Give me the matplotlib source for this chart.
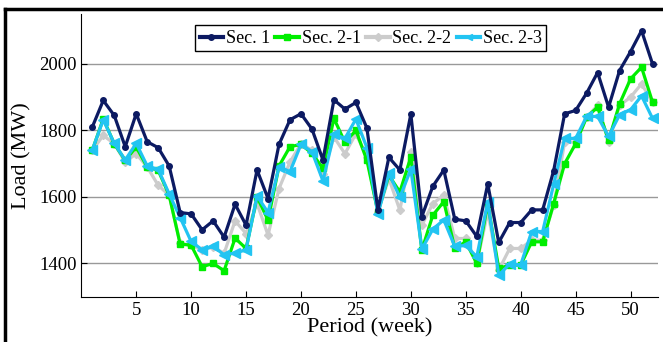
import matplotlib
matplotlib.use("Agg")
import matplotlib.pyplot as plt
from matplotlib.lines import Line2D

weeks = list(range(1, 53))

sec1 = [1810, 1890, 1845, 1751, 1850, 1766, 1748, 1693, 1553, 1549,
        1501, 1528, 1479, 1578, 1515, 1681, 1595, 1758, 1832, 1850,
        1804, 1711, 1892, 1864, 1884, 1807, 1561, 1719, 1681, 1849,
        1541, 1632, 1681, 1533, 1528, 1481, 1639, 1463, 1523, 1523,
        1561, 1561, 1679, 1850, 1860, 1912, 1974, 1870, 1980, 2037,
        2100, 2000]

sec2_1 = [1740, 1835, 1760, 1710, 1750, 1690, 1680, 1605, 1458, 1455,
          1390, 1400, 1378, 1476, 1445, 1600, 1530, 1693, 1751, 1758,
          1731, 1686, 1836, 1764, 1800, 1710, 1555, 1665, 1615, 1720,
          1440, 1545, 1586, 1445, 1465, 1400, 1580, 1385, 1395, 1395,
          1465, 1465, 1580, 1700, 1760, 1840, 1870, 1770, 1880, 1955,
          1990, 1885]

sec2_2 = [1740, 1785, 1760, 1705, 1730, 1690, 1635, 1605, 1460, 1455,
          1440, 1450, 1430, 1528, 1490, 1580, 1485, 1625, 1705, 1760,
          1740, 1670, 1780, 1730, 1790, 1720, 1555, 1655, 1560, 1735,
          1515, 1580, 1605, 1475, 1475, 1400, 1555, 1380, 1445, 1445,
          1470, 1470, 1575, 1765, 1765, 1840, 1875, 1765, 1875, 1900,
          1940, 1885]

sec2_3 = [1741, 1832, 1761, 1711, 1761, 1693, 1683, 1609, 1538, 1466,
          1441, 1451, 1426, 1431, 1441, 1603, 1553, 1691, 1676, 1758,
          1736, 1648, 1789, 1776, 1834, 1748, 1548, 1671, 1599, 1683,
          1443, 1503, 1531, 1451, 1454, 1420, 1585, 1365, 1398, 1396,
          1496, 1496, 1638, 1776, 1776, 1842, 1842, 1782, 1847, 1862,
          1904, 1836]

plt.rcParams["font.family"] = ["Liberation Serif", "DejaVu Serif"]

fig = plt.figure(figsize=(6.63, 3.42), dpi=100)
ax = fig.add_axes([0.1226, 0.1325, 0.8699, 0.8265])

ax.plot(weeks, sec2_2, color="#cccccc", lw=2.3, marker="D", ms=4.5, zorder=2, label="Sec. 2-2")
ax.plot(weeks, sec2_1, color="#00ee00", lw=2.3, marker="s", ms=5, zorder=3, label="Sec. 2-1")
ax.plot(weeks, sec2_3, color="#22c4f2", lw=2.3, marker="<", ms=6.5, zorder=4, label="Sec. 2-3")
ax.plot(weeks, sec1, color="#0c1a62", lw=2.3, marker="o", ms=4, zorder=5, label="Sec. 1")

ax.set_xlim(0, 52.5)
ax.set_ylim(1300, 2150)
ax.set_xticks([5, 10, 15, 20, 25, 30, 35, 40, 45, 50])
ax.set_yticks([1400, 1600, 1800, 2000])
ax.yaxis.grid(True, color="#999999", lw=1.0)
ax.set_axisbelow(True)
ax.tick_params(direction="in", labelsize=13.5, length=4, width=0.8, color="black")
ax.spines["top"].set_visible(False)
ax.spines["right"].set_visible(False)
ax.spines["left"].set_linewidth(0.8)
ax.spines["bottom"].set_linewidth(0.8)

ax.set_xlabel("Period (week)", fontsize=16, labelpad=0)
ax.set_ylabel("Load (MW)", fontsize=16, labelpad=5)

handles, labels = ax.get_legend_handles_labels()
order = [3, 1, 0, 2]
leg = ax.legend([handles[i] for i in order], [labels[i] for i in order],
                loc="upper center", bbox_to_anchor=(0.502, 0.96), ncol=4,
                fontsize=13, handlelength=1.3, handletextpad=0.15,
                columnspacing=0.3, borderpad=0.25, borderaxespad=0.0,
                fancybox=False, framealpha=1, edgecolor="black")
leg.get_frame().set_linewidth(1.0)
for h in leg.legend_handles:
    h.set_markersize(4)
    h.set_linewidth(3)

# thick frame lines at the top and left of the cropped figure
fig.add_artist(Line2D([0.0068, 1.0], [0.9737, 0.9737], color="black", lw=2.5, transform=fig.transFigure))
fig.add_artist(Line2D([0.0068, 0.0068], [0.0, 0.9737], color="black", lw=2.5, transform=fig.transFigure))

fig.savefig("out.png", dpi=100)
